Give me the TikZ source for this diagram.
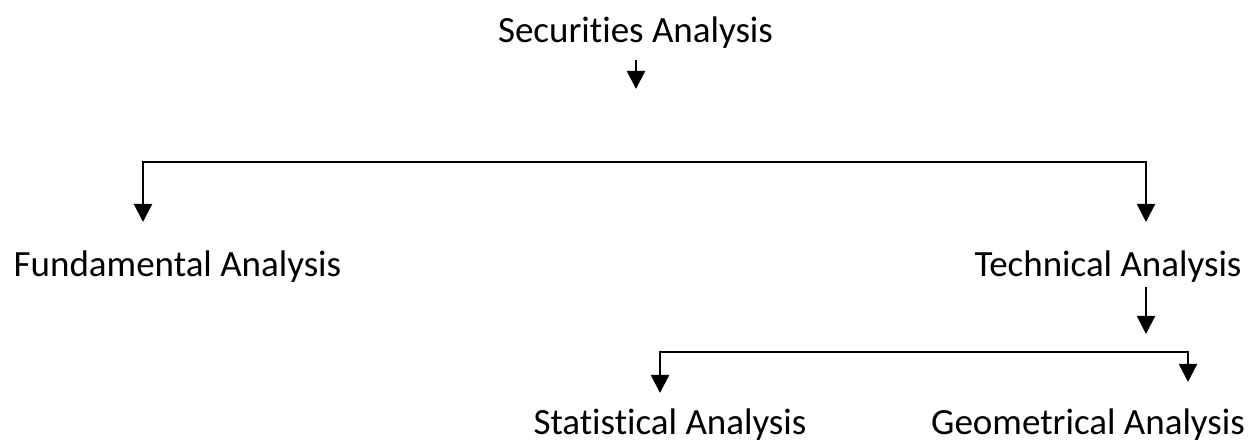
\documentclass[tikz,border=0pt]{standalone}
\usepackage{fontspec}
\setmainfont{Carlito}[Ligatures=NoCommon]
\usetikzlibrary{arrows.meta}

\tikzset{
	lbl/.style={anchor=base, inner sep=0pt, font=\fontsize{18.5}{22}\selectfont},
	arr/.style={line width=1pt, -{Triangle[width=9pt,length=9pt]}},
	twoarr/.style={line width=1pt, {Triangle[width=9pt,length=9pt]}-{Triangle[width=9pt,length=9pt]}}
}

\begin{document}
\begin{tikzpicture}[x=0.5pt, y=-0.5pt]
			
			\useasboundingbox (0, 0) rectangle (1257, 442);
			
			\node [lbl] (sec) at (635.5, 43) {Securities Analysis};
			\node [lbl] (fund) at (177.5, 277) {Fundamental Analysis};
			\node [lbl] (tech) at (1108, 277) {Technical Analysis};
			\node [lbl] (stat) at (670, 435) {Statistical Analysis};
			\node [lbl] (geom) at (1088, 435) {Geometrical Analysis};
			
			% arrow below the top label
			\coordinate (secA) at (636, 60);
			\coordinate (secB) at (636, 89);
			\draw [arr] (secA) -- (secB);
			
			% first split
			\coordinate (fundIn) at (143, 222);
			\coordinate (barL) at (143, 162);
			\coordinate (barR) at (1146, 162);
			\coordinate (techIn) at (1146, 222);
			\draw [twoarr] (fundIn) -- (barL) -- (barR) -- (techIn);
			
			% arrow below technical analysis
			\coordinate (techA) at (1146, 287);
			\coordinate (techB) at (1146, 334);
			\draw [arr] (techA) -- (techB);
			
			% second split
			\coordinate (statIn) at (660, 393);
			\coordinate (subL) at (660, 352);
			\coordinate (subR) at (1188, 352);
			\coordinate (geomIn) at (1188, 382);
			\draw [twoarr] (statIn) -- (subL) -- (subR) -- (geomIn);
			
\end{tikzpicture}
\end{document}
